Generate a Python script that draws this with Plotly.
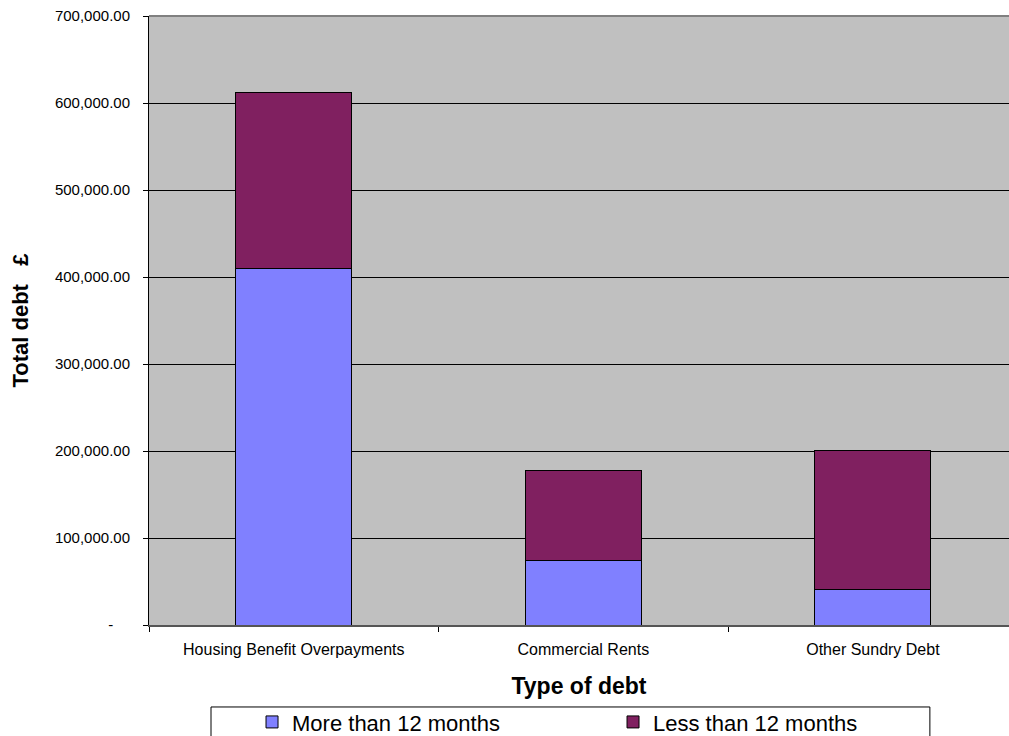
import plotly.graph_objects as go

categories = ["Housing Benefit Overpayments", "Commercial Rents", "Other Sundry Debt"]
more_than_12 = [410000, 74000, 41000]
less_than_12 = [202000, 103500, 159500]
series_names = ["More than 12 months", "Less than 12 months"]
colors = ["#8080FF", "#802060"]
y_tickvals = [0, 100000, 200000, 300000, 400000, 500000, 600000, 700000]
y_ticktext = ["-\u00a0\u00a0\u00a0\u00a0", "100,000.00", "200,000.00", "300,000.00",
              "400,000.00", "500,000.00", "600,000.00", "700,000.00"]

FONT = "Arial, 'Liberation Sans', sans-serif"

fig = go.Figure()
for name, vals, col in zip(series_names, [more_than_12, less_than_12], colors):
    fig.add_trace(go.Bar(
        x=categories, y=vals, name=name, width=0.4,
        marker=dict(color=col, line=dict(color="#000000", width=1)),
    ))

fig.update_layout(
    width=1009, height=736,
    barmode="stack",
    paper_bgcolor="#FFFFFF",
    plot_bgcolor="#C0C0C0",
    margin=dict(l=149, r=0, t=16, b=111, autoexpand=False),
    font=dict(family=FONT, color="#000000"),
    showlegend=True,
    legend=dict(
        orientation="h", x=0.1198, xanchor="left", y=-0.125, yanchor="top",
        borderwidth=0, bgcolor="rgba(0,0,0,0)",
        font=dict(size=22, family=FONT), entrywidth=316, entrywidthmode="pixels",
        traceorder="normal",
    ),
    xaxis=dict(
        range=[-0.5, 2.47], tickson="boundaries", ticks="outside", ticklen=5,
        tickcolor="#000000", showline=True, linecolor="#555555", linewidth=2,
        showgrid=False, tickfont=dict(size=16, family=FONT), ticklabelstandoff=9,
        title=dict(text="<b>Type of debt</b>", font=dict(size=23, family=FONT), standoff=21),
    ),
    yaxis=dict(
        range=[0, 700000], tickvals=y_tickvals, ticktext=y_ticktext,
        ticks="outside", ticklen=5, tickcolor="#000000",
        showline=True, linecolor="#000000", linewidth=1,
        showgrid=True, gridcolor="#000000", gridwidth=1, zeroline=False,
        tickfont=dict(size=15, family=FONT), ticklabelstandoff=10,
        title=dict(text="<b>Total debt\u00a0\u00a0\u00a0£</b>", font=dict(size=22, family=FONT), standoff=20),
    ),
    shapes=[
        dict(type="line", xref="paper", yref="paper", x0=0, x1=1, y0=1, y1=1,
             line=dict(color="#808080", width=2), layer="above"),
        dict(type="rect", xref="paper", yref="paper", x0=0.0721, x1=0.908, y0=-0.1346, y1=-0.25,
             line=dict(color="#000000", width=1), fillcolor="rgba(0,0,0,0)", layer="above"),
    ],
)

fig.write_html("out.html")
